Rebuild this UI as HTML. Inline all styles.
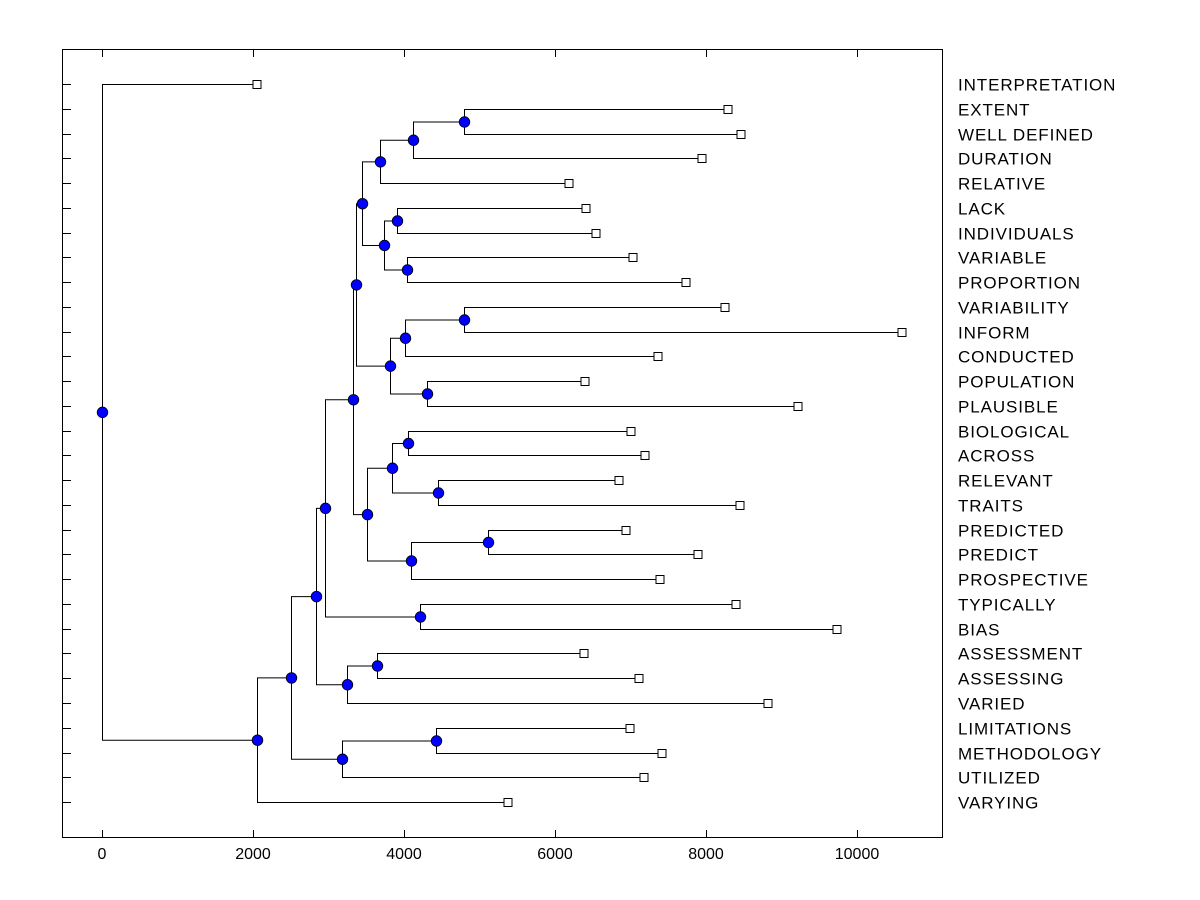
<!DOCTYPE html>
<html><head><meta charset="utf-8"><style>body{margin:0;background:#fff}svg{display:block}text{font-family:"Liberation Sans",Arial,sans-serif;font-size:16px;fill:#000}.lb{font-size:17px;letter-spacing:0.9px}</style></head><body>
<svg id="s" width="1200" height="900" xmlns="http://www.w3.org/2000/svg">
<rect x="62.5" y="49.5" width="880" height="788" fill="none" stroke="#000" stroke-width="1"/>
<g id="g"></g>
<text x="102" y="859" text-anchor="middle">0</text>
<text x="253" y="859" text-anchor="middle">2000</text>
<text x="404" y="859" text-anchor="middle">4000</text>
<text x="555" y="859" text-anchor="middle">6000</text>
<text x="706" y="859" text-anchor="middle">8000</text>
<text x="857" y="859" text-anchor="middle">10000</text>
</svg>
<script>
var names=["INTERPRETATION","EXTENT","WELL DEFINED","DURATION","RELATIVE","LACK","INDIVIDUALS","VARIABLE","PROPORTION","VARIABILITY","INFORM","CONDUCTED","POPULATION","PLAUSIBLE","BIOLOGICAL","ACROSS","RELEVANT","TRAITS","PREDICTED","PREDICT","PROSPECTIVE","TYPICALLY","BIAS","ASSESSMENT","ASSESSING","VARIED","LIMITATIONS","METHODOLOGY","UTILIZED","VARYING"];
var lx=[257,728,741,702,569,586,596,633,686,725,902,658,585,798,631,645,619,740,626,698,660,736,837,584,639,768,630,662,644,508];
var N={};
names.forEach(function(n,i){N[n]={x:lx[i],y:Math.round(84+i*24.76)+0.5,leaf:1};});
function nd(k,x,a,b){N[k]={x:x+0.5,y:(N[a].y+N[b].y)/2,a:a,b:b};}
nd("A",464,"EXTENT","WELL DEFINED");nd("B",413,"A","DURATION");nd("C",380,"B","RELATIVE");
nd("D",397,"LACK","INDIVIDUALS");nd("E",407,"VARIABLE","PROPORTION");nd("F",384,"D","E");nd("G",362,"C","F");
nd("H",464,"VARIABILITY","INFORM");nd("I",405,"H","CONDUCTED");nd("J",427,"POPULATION","PLAUSIBLE");nd("K",390,"I","J");nd("L",356,"G","K");
nd("M",408,"BIOLOGICAL","ACROSS");nd("Nn",438,"RELEVANT","TRAITS");nd("O",392,"M","Nn");
nd("P",488,"PREDICTED","PREDICT");nd("Q",411,"P","PROSPECTIVE");nd("R",367,"O","Q");nd("S",353,"L","R");
nd("T",420,"TYPICALLY","BIAS");nd("U",325,"S","T");nd("V",377,"ASSESSMENT","ASSESSING");nd("W",347,"V","VARIED");
nd("X",316,"U","W");nd("Y",436,"LIMITATIONS","METHODOLOGY");nd("Z",342,"Y","UTILIZED");nd("AA",291,"X","Z");
nd("AB",257,"AA","VARYING");nd("ROOT",102,"INTERPRETATION","AB");
var s="",c="",q="";
for(var i=0;i<30;i++){var y=Math.round(84+i*24.76)+0.5;s+='<line x1="62" y1="'+y+'" x2="71" y2="'+y+'" stroke="#000"/>';
s+='<text class="lb" x="958" y="'+(y+6)+'">'+names[i]+'</text>';}
[102,253,404,555,706,857].forEach(function(x){x+=0.5;s+='<line x1="'+x+'" y1="49" x2="'+x+'" y2="57" stroke="#000"/><line x1="'+x+'" y1="830" x2="'+x+'" y2="838" stroke="#000"/>';});
for(var k in N){var n=N[k];if(n.leaf){q+='<rect x="'+(n.x-4)+'" y="'+(n.y-4)+'" width="8" height="8" fill="#fff" stroke="#000"/>';continue;}
var a=N[n.a],b=N[n.b];
s+='<polyline points="'+a.x+','+a.y+' '+n.x+','+a.y+' '+n.x+','+b.y+' '+b.x+','+b.y+'" fill="none" stroke="#000"/>';
c+='<circle cx="'+n.x+'" cy="'+n.y+'" r="5.3" fill="#0000ff" stroke="#000" stroke-width="0.8"/>';}
document.getElementById("g").innerHTML=s+q+c;
</script>
</body></html>
